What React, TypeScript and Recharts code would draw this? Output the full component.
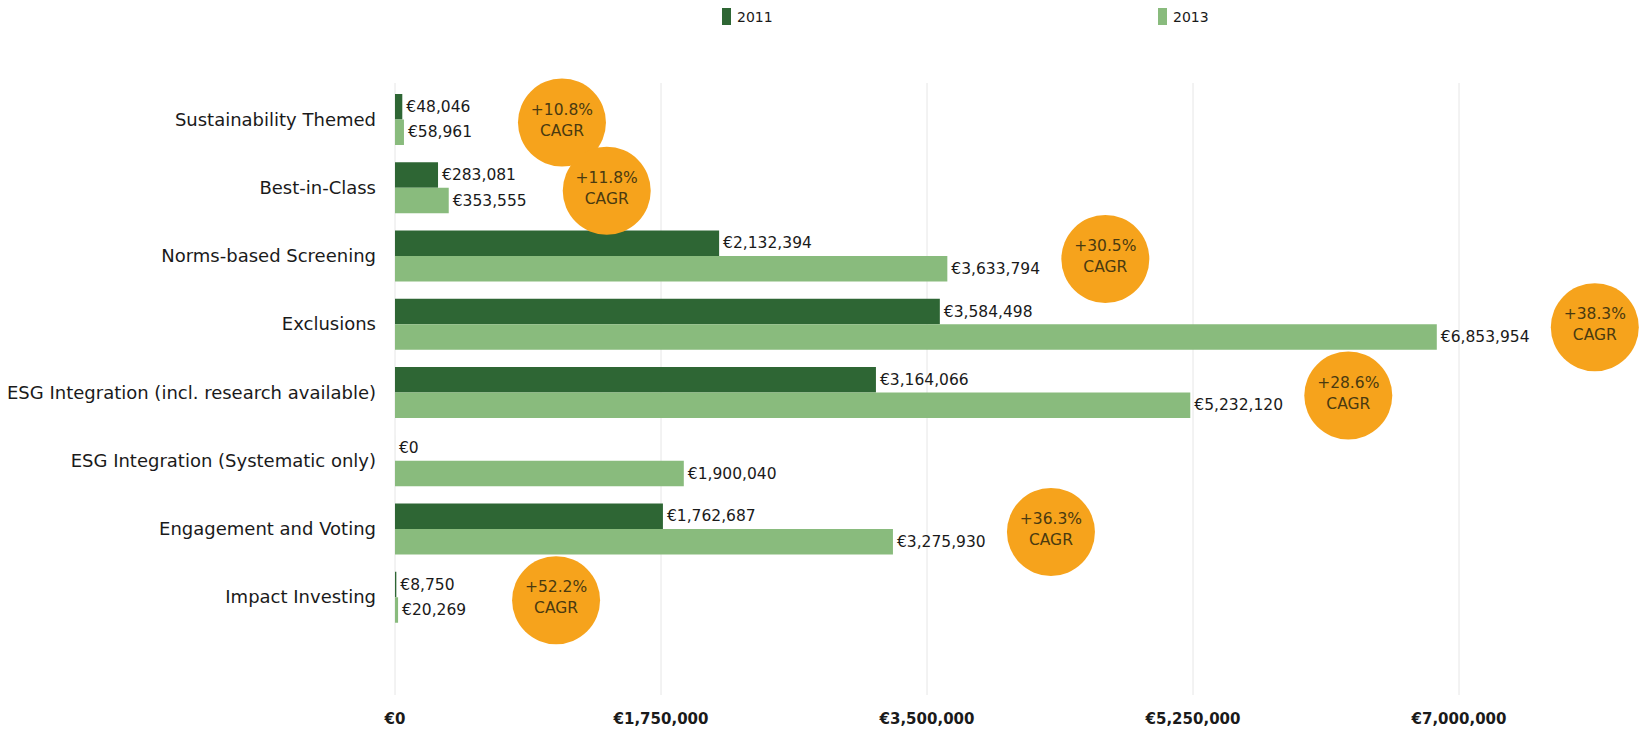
import React from 'react'
import { BarChart, Bar, XAxis, YAxis, CartesianGrid, LabelList } from 'recharts'

const categories = [
  'Sustainability Themed',
  'Best-in-Class',
  'Norms-based Screening',
  'Exclusions',
  'ESG Integration (incl. research available)',
  'ESG Integration (Systematic only)',
  'Engagement and Voting',
  'Impact Investing',
]
const values2011 = [48046, 283081, 2132394, 3584498, 3164066, 0, 1762687, 8750]
const values2013 = [58961, 353555, 3633794, 6853954, 5232120, 1900040, 3275930, 20269]
const cagr = ['+10.8%', '+11.8%', '+30.5%', '+38.3%', '+28.6%', '', '+36.3%', '+52.2%']
const xTicks = [0, 1750000, 3500000, 5250000, 7000000]

const DARK = '#2e6634'
const LIGHT = '#89bb7d'
const ORANGE = '#f6a31c'
const FONT = '"DejaVu Sans", sans-serif'

const data = categories.map((name, i) => ({
  name,
  v2011: values2011[i],
  v2013: values2013[i],
  cagr: cagr[i],
}))

const euro = (v: number) => '€' + v.toLocaleString('en-US')

const renderValue = (props: any) => {
  const { x, y, width, height, value } = props
  return (
    <text
      x={Number(x) + Math.max(0, Number(width)) + 4}
      y={Number(y) + Number(height) / 2}
      dominantBaseline="central"
      fontSize={15.5}
      fontFamily={FONT}
      fill="#1a1a1a"
    >
      {euro(Number(value))}
    </text>
  )
}

const renderCagr = (props: any) => {
  const { x, y, width, value } = props
  if (!value) return null
  const cx = Number(x) + Number(width) + 158
  const cy = Number(y)
  return (
    <g>
      <circle cx={cx} cy={cy + 3} r={44} fill={ORANGE} />
      <text x={cx} y={cy - 10} textAnchor="middle" dominantBaseline="central" fontSize={15.5} fontFamily={FONT} fill="#4a3a10">
        {value}
      </text>
      <text x={cx} y={cy + 11} textAnchor="middle" dominantBaseline="central" fontSize={15.5} fontFamily={FONT} fill="#4a3a10">
        CAGR
      </text>
    </g>
  )
}

const LegendItem = ({ left, color, label }: { left: number; color: string; label: string }) => (
  <div style={{ position: 'absolute', left, top: 8, display: 'flex', alignItems: 'center' }}>
    <div style={{ width: 9, height: 17, background: color, marginRight: 6 }} />
    <span style={{ fontFamily: FONT, fontSize: 14, color: '#1a1a1a' }}>{label}</span>
  </div>
)

export default function App() {
  return (
    <div style={{ position: 'absolute', left: 0, top: 0, width: 1650, height: 731, background: '#fff' }}>
      <LegendItem left={722} color={DARK} label="2011" />
      <LegendItem left={1158} color={LIGHT} label="2013" />
      <BarChart
        width={1650}
        height={731}
        data={data}
        layout="vertical"
        margin={{ top: 83, right: 191, bottom: 0, left: 0 }}
        barGap={0}
        barSize={25.5}
      >
        <CartesianGrid horizontal={false} stroke="#e6e6e6" />
        <XAxis
          type="number"
          domain={[0, 7000000]}
          ticks={xTicks}
          tickFormatter={euro}
          axisLine={false}
          tickLine={false}
          tickSize={0}
          tickMargin={18}
          height={36}
          tick={{ fontSize: 15, fontWeight: 'bold', fontFamily: FONT, fill: '#1a1a1a' }}
        />
        <YAxis
          type="category"
          dataKey="name"
          width={395}
          axisLine={false}
          tickLine={false}
          tickSize={0}
          tickMargin={19}
          padding={{ top: 2, bottom: 64 }}
          tick={{ fontSize: 18, fontFamily: FONT, fill: '#1a1a1a' }}
        />
        <Bar dataKey="v2011" fill={DARK} minPointSize={0.01} isAnimationActive={false}>
          <LabelList dataKey="v2011" content={renderValue} />
        </Bar>
        <Bar dataKey="v2013" fill={LIGHT} isAnimationActive={false}>
          <LabelList dataKey="v2013" content={renderValue} />
          <LabelList dataKey="cagr" content={renderCagr} />
        </Bar>
      </BarChart>
    </div>
  )
}
